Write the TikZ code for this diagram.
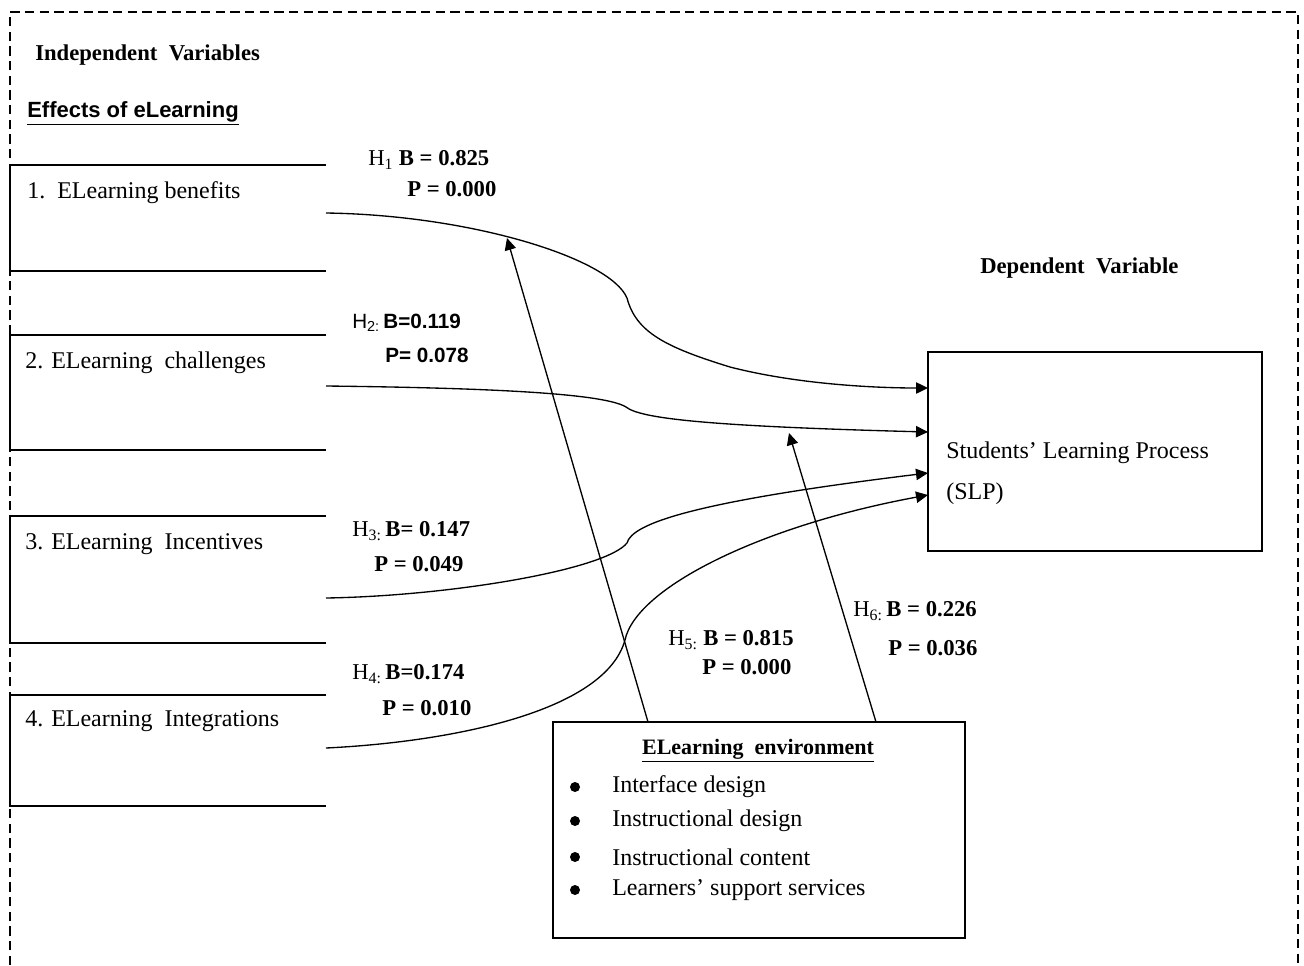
\documentclass[tikz,border=0pt]{standalone}
\usepackage{fontspec}
\setmainfont{Liberation Serif}
\setsansfont{Liberation Sans}
\usetikzlibrary{arrows.meta,calc,fit}

\begin{document}
\begin{tikzpicture}[x=0.75pt,y=-0.75pt,
  outerframe/.style={draw, line width=0.9pt, dash pattern=on 7pt off 4pt},
  sidebox/.style={line width=1.4pt},
  area/.style={inner sep=0pt, outer sep=0pt},
  closedbox/.style={draw, line width=1.4pt, inner sep=0pt, outer sep=0pt},
  link/.style={line width=1pt, -{Triangle[length=9pt,width=8.5pt]}},
  boxtext/.style={anchor=west, inner sep=0pt, font=\fontsize{18}{21}\selectfont},
  heading/.style={anchor=west, inner sep=0pt, font=\bfseries\fontsize{17}{20}\selectfont},
  coef/.style={anchor=west, inner sep=0pt, font=\fontsize{17}{20}\selectfont},
  coefsans/.style={anchor=west, inner sep=0pt, font=\sffamily\fontsize{15.5}{18}\selectfont},
  dot/.style={circle, fill, inner sep=0pt, minimum size=7.5pt},
]
\useasboundingbox (0,0) rectangle (1304,965);

% dashed outer frame (open at the bottom)
\draw[outerframe] (10,965) -- (10,12) -- (1298,12) -- (1298,965);

% headings
\node[heading] (indep) at (35,55) {Independent\ \ Variables};
\node[heading, font=\sffamily\bfseries\fontsize{16.5}{20}\selectfont] (effects) at (27,113) {\underline{Effects of eLearning}};
\node[heading] (dep) at (980,268) {Dependent\ \ Variable};

% independent variable boxes (open on the right)
\node[area, fit={(10,165) (326,271)}] (b1) {};
\node[area, fit={(10,335) (326,450)}] (b2) {};
\node[area, fit={(10,516) (326,643)}] (b3) {};
\node[area, fit={(10,695) (326,806)}] (b4) {};
\foreach \b in {b1,b2,b3,b4}
  \draw[sidebox] (\b.north east) -- (\b.north west) -- (\b.south west) -- (\b.south east);

\node[boxtext] (t1) at (27,193) {1.\ \ ELearning benefits};
\node[boxtext] (t2) at (25,363) {2. ELearning\ \ challenges};
\node[boxtext] (t3) at (25,544) {3. ELearning\ \ Incentives};
\node[boxtext] (t4) at (25,721) {4. ELearning\ \ Integrations};

% dependent variable box
\node[closedbox, fit={(928,352) (1262,551)}] (slp) {};
\node[boxtext] (slpa) at (946,453) {Students' Learning Process};
\node[boxtext] (slpb) at (946,494) {(SLP)};

% eLearning environment box
\node[closedbox, fit={(553,722) (965,938)}] (env) {};
\node[anchor=center, inner sep=0pt, font=\bfseries\fontsize{16.5}{20}\selectfont] (envt) at (758,751) {\underline{ELearning\ \ environment}};
\node[dot] (d1) at (575,787) {};
\node[dot] (d2) at (575,821) {};
\node[dot] (d3) at (575,857) {};
\node[dot] (d4) at (575,890) {};
\node[boxtext] (e1) at (612,787) {Interface\ design};
\node[boxtext] (e2) at (612,821) {Instructional design};
\node[boxtext] (e3) at (612,857) {Instructional content};
\node[boxtext] (e4) at (612,890) {Learners' support services};

% paths from the independent variables to SLP
\draw[link] ($(b1.east)+(0,-5)$) .. controls (470,215) and (610,258) .. (627,298)
  .. controls (636,332) and (665,347) .. (730,367)
  .. controls (800,385) and (880,388) .. ($(slp.west)+(0,-63.5)$);
\draw[link] ($(b2.east)+(0,-6.5)$) .. controls (500,388) and (605,394) .. (626,407)
  .. controls (640,418) and (700,426) .. ($(slp.west)+(0,-19.5)$);
\draw[link] ($(b3.east)+(0,18.5)$) .. controls (450,596) and (605,570) .. (627,543)
  .. controls (632,524) and (690,502) .. ($(slp.west)+(0,21.5)$);
\draw[link] ($(b4.east)+(0,-2.5)$) .. controls (450,742) and (605,712) .. (625,640)
  .. controls (636,588) and (760,526) .. ($(slp.west)+(0,43.5)$);

% moderating paths from the eLearning environment
\coordinate (h5tip) at (507,238);
\coordinate (h6tip) at (789,433);
\draw[link] ($(env.north west)+(95,0)$) -- (h5tip);
\draw[link] ($(env.north west)+(323,0)$) -- (h6tip);

% coefficients
\node[coef] (h1a) at (368,160) {H\textsubscript{1} \textbf{B = 0.825}};
\node[coef] (h1b) at (407,189) {\textbf{P = 0.000}};
\node[coefsans] (h2a) at (352,323) {H\textsubscript{2:}\,\textbf{B=0.119}};
\node[coefsans] (h2b) at (385,355) {\textbf{P= 0.078}};
\node[coef] (h3a) at (352,531) {H\textsubscript{3:}\,\textbf{B= 0.147}};
\node[coef] (h3b) at (374,564) {\textbf{P = 0.049}};
\node[coef] (h4a) at (352,674) {H\textsubscript{4:}\,\textbf{B=0.174}};
\node[coef] (h4b) at (382,708) {\textbf{P = 0.010}};
\node[coef] (h5a) at (668,640) {H\textsubscript{5:} \textbf{B\ = 0.815}};
\node[coef] (h5b) at (702,667) {\textbf{P\ = 0.000}};
\node[coef] (h6a) at (853,611) {H\textsubscript{6:}\,\textbf{B = 0.226}};
\node[coef] (h6b) at (888,648) {\textbf{P = 0.036}};
\end{tikzpicture}
\end{document}
